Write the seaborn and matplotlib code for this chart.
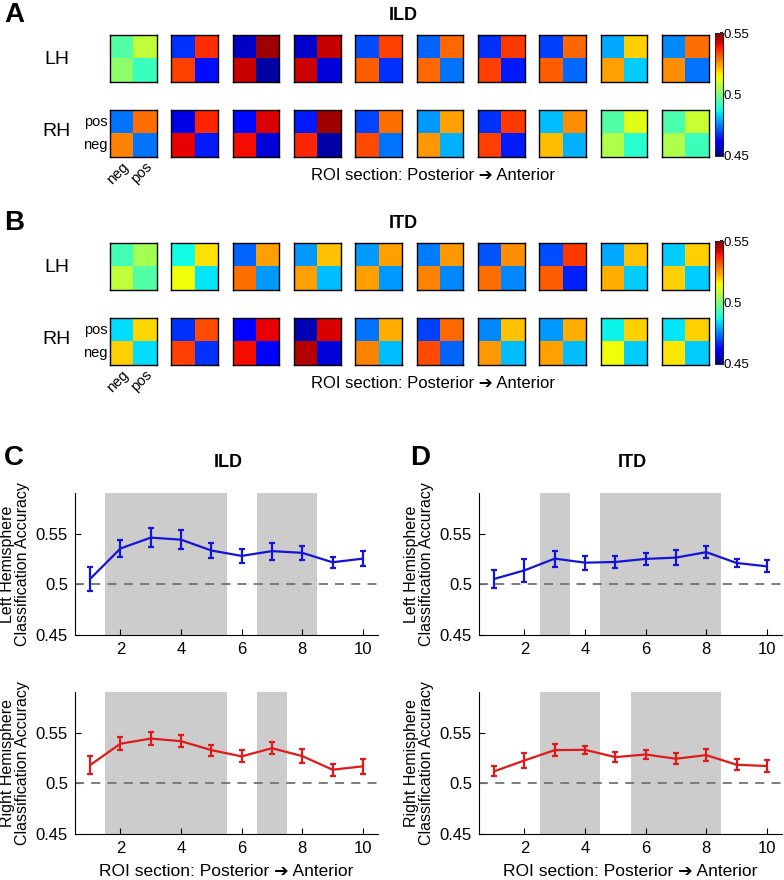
import numpy as np
import pandas as pd
import matplotlib
matplotlib.use('Agg')
import matplotlib.pyplot as plt
import seaborn as sns

sns.set_theme(style='white')
plt.rcParams['font.family'] = ['Liberation Sans', 'DejaVu Sans']
plt.rcParams['text.color'] = 'black'
plt.rcParams['axes.labelcolor'] = 'black'
plt.rcParams['xtick.color'] = 'black'
plt.rcParams['ytick.color'] = 'black'

# ---------------- data ----------------
rois = list(range(1, 11))
col_labels = ['neg', 'pos']
row_labels = ['pos', 'neg']

# confusion cells per ROI: [pos/neg, pos/pos, neg/neg, neg/pos]
ild_lh = [[0.495, 0.508, 0.502, 0.492], [0.4675, 0.536, 0.534, 0.464],
          [0.456, 0.547, 0.5435, 0.4535], [0.457, 0.544, 0.543, 0.458],
          [0.470, 0.534, 0.531, 0.4675], [0.4725, 0.530, 0.530, 0.474],
          [0.4675, 0.535, 0.534, 0.465], [0.469, 0.530, 0.531, 0.473],
          [0.479, 0.519, 0.524, 0.4825], [0.476, 0.529, 0.526, 0.474]]
ild_rh = [[0.474, 0.529, 0.527, 0.474], [0.459, 0.537, 0.541, 0.465],
          [0.4635, 0.542, 0.5395, 0.458], [0.465, 0.547, 0.537, 0.4535],
          [0.4695, 0.529, 0.533, 0.474], [0.4775, 0.524, 0.525, 0.480],
          [0.4675, 0.535, 0.534, 0.465], [0.481, 0.526, 0.521, 0.480],
          [0.495, 0.5125, 0.506, 0.490], [0.494, 0.509, 0.506, 0.4925]]
itd_lh = [[0.493, 0.505, 0.508, 0.495], [0.4875, 0.517, 0.514, 0.485],
          [0.4725, 0.524, 0.529, 0.4775], [0.4775, 0.5205, 0.524, 0.481],
          [0.4775, 0.524, 0.524, 0.4775], [0.475, 0.525, 0.527, 0.476],
          [0.471, 0.526, 0.529, 0.476], [0.470, 0.535, 0.531, 0.466],
          [0.479, 0.5205, 0.5225, 0.4825], [0.4825, 0.519, 0.519, 0.4825]]
itd_rh = [[0.484, 0.518, 0.519, 0.484], [0.4675, 0.533, 0.534, 0.4675],
          [0.4625, 0.541, 0.5395, 0.461], [0.455, 0.542, 0.545, 0.458],
          [0.474, 0.5225, 0.527, 0.481], [0.469, 0.530, 0.533, 0.4725],
          [0.476, 0.5205, 0.525, 0.481], [0.4775, 0.5225, 0.524, 0.481],
          [0.4865, 0.519, 0.514, 0.4825], [0.485, 0.519, 0.5165, 0.4825]]

# classification accuracy (mean, sem)
ild_lh_acc = [0.5053, 0.5353, 0.546, 0.544, 0.5333, 0.528, 0.5327, 0.531, 0.5217, 0.5253]
ild_lh_err = [0.012, 0.008, 0.0093, 0.0097, 0.007, 0.0067, 0.0083, 0.0072, 0.0055, 0.0073]
ild_rh_acc = [0.518, 0.539, 0.5441, 0.5415, 0.5327, 0.5265, 0.5346, 0.5268, 0.5134, 0.5167]
ild_rh_err = [0.0088, 0.0062, 0.006, 0.006, 0.0054, 0.006, 0.0059, 0.0069, 0.0059, 0.0074]
itd_lh_acc = [0.5053, 0.5137, 0.5253, 0.5213, 0.522, 0.525, 0.5263, 0.5317, 0.521, 0.5177]
itd_lh_err = [0.009, 0.0117, 0.008, 0.007, 0.006, 0.0063, 0.0073, 0.0062, 0.0043, 0.0058]
itd_rh_acc = [0.5118, 0.5225, 0.5327, 0.533, 0.5258, 0.5284, 0.5242, 0.5278, 0.5183, 0.517]
itd_rh_err = [0.005, 0.0077, 0.0056, 0.004, 0.0052, 0.0046, 0.0054, 0.0056, 0.0052, 0.0059]

# significant ROI ranges (shaded)
ild_lh_sig = [(2, 5), (7, 8)]
ild_rh_sig = [(2, 5), (7, 7)]
itd_lh_sig = [(3, 3), (5, 8)]
itd_rh_sig = [(3, 4), (6, 8)]

# ---------------- figure ----------------
W, H = 784, 880
fig = plt.figure(figsize=(W / 100, H / 100), dpi=100)


def rect(x0, y0, x1, y1):
    return [x0 / W, 1 - y1 / H, (x1 - x0) / W, (y1 - y0) / H]


VMIN, VMAX = 0.45, 0.55
CMAP = 'jet'
SQ = 46.7
DX = 61.33
X0 = 110
ARROW = '\u2794'
XL = 'ROI section: Posterior ' + ARROW + ' Anterior'


def heat_row(cells, top, first_labels=False):
    for i, c in enumerate(cells):
        x = X0 + DX * i
        ax = fig.add_axes(rect(x, top, x + SQ, top + SQ))
        df = pd.DataFrame([[c[0], c[1]], [c[2], c[3]]], index=row_labels, columns=col_labels)
        sns.heatmap(df, ax=ax, cmap=CMAP, vmin=VMIN, vmax=VMAX, cbar=False,
                    xticklabels=first_labels and i == 0,
                    yticklabels=first_labels and i == 0)
        for s in ax.spines.values():
            s.set_visible(True)
            s.set_color('black')
            s.set_linewidth(1.0)
        ax.tick_params(length=0, pad=2)
        ax.set_xlabel('')
        ax.set_ylabel('')
        if first_labels and i == 0:
            for t in ax.get_yticklabels():
                t.set_rotation(0)
                t.set_fontsize(10.5)
            for t in ax.get_xticklabels():
                t.set_rotation(45)
                t.set_ha('right')
                t.set_rotation_mode('anchor')
                t.set_fontsize(10.5)


def heat_panel(lh, rh, top, letter, title):
    heat_row(lh, top)
    heat_row(rh, top + 75, first_labels=True)
    fig.text(57 / W, 1 - (top + 24) / H, 'LH', ha='center', va='center', fontsize=14)
    fig.text(57 / W, 1 - (top + 97) / H, 'RH', ha='center', va='center', fontsize=14)
    fig.text(4 / W, 1 - (top - 20) / H, letter, ha='left', va='center', fontsize=20, fontweight='bold')
    fig.text(403 / W, 1 - (top - 20) / H, title, ha='center', va='center', fontsize=13, fontweight='bold')
    fig.text(433 / W, 1 - (top + 140) / H, XL, ha='center', va='center', fontsize=12)
    cax = fig.add_axes(rect(715, top - 2, 722.5, top + 121))
    sm = plt.cm.ScalarMappable(cmap=CMAP, norm=plt.Normalize(VMIN, VMAX))
    cb = fig.colorbar(sm, cax=cax, ticks=[0.45, 0.5, 0.55])
    cb.ax.set_yticklabels(['0.45', '0.5', '0.55'], fontsize=9.5)
    cb.ax.tick_params(direction='in', length=2, pad=1)
    cb.outline.set_linewidth(0.8)


heat_panel(ild_lh, ild_rh, 35, 'A', 'ILD')
heat_panel(itd_lh, itd_rh, 243, 'B', 'ITD')

BLUE = (0.08, 0.08, 0.85)
RED = (0.88, 0.1, 0.1)


def line_axes(x0, x1, top, bottom, acc, err, sig, color, ylabel, xlabel):
    ax = fig.add_axes(rect(x0, top, x1, bottom))
    for a, b in sig:
        ax.axvspan(a - 0.5, b + 0.5, color='#cccccc', lw=0, zorder=0)
    ax.axhline(0.5, color='0.45', lw=1.3, ls=(0, (5, 4)), zorder=1)
    sns.lineplot(x=rois, y=acc, color=color, lw=1.6, ax=ax, zorder=3)
    ax.errorbar(rois, acc, yerr=err, fmt='none', ecolor=color, elinewidth=1.6,
                capsize=2.5, capthick=1.6, zorder=3)
    ax.set_xlim(0.5, 10.5)
    ax.set_ylim(0.45, 0.59)
    ax.set_xticks([2, 4, 6, 8, 10])
    ax.set_yticks([0.45, 0.5, 0.55])
    ax.set_yticklabels(['0.45', '0.5', '0.55'])
    ax.tick_params(direction='in', length=4, width=0.8, labelsize=12, colors='black',
                   bottom=True, left=True, pad=5)
    for s in ['top', 'right']:
        ax.spines[s].set_visible(False)
    for s in ['left', 'bottom']:
        ax.spines[s].set_color('black')
        ax.spines[s].set_linewidth(0.8)
    ax.set_ylabel(ylabel, fontsize=11.5, linespacing=1.0, labelpad=4)
    ax.set_xlabel(xlabel, fontsize=12.5, labelpad=6)
    ax.set_facecolor('white')
    return ax


LH_LABEL = 'Left Hemisphere\nClassification Accuracy'
RH_LABEL = 'Right Hemisphere\nClassification Accuracy'

line_axes(75, 378, 493, 635, ild_lh_acc, ild_lh_err, ild_lh_sig, BLUE, LH_LABEL, '')
line_axes(75, 378, 692, 834, ild_rh_acc, ild_rh_err, ild_rh_sig, RED, RH_LABEL, XL)
line_axes(479, 782, 493, 635, itd_lh_acc, itd_lh_err, itd_lh_sig, BLUE, LH_LABEL, '')
line_axes(479, 782, 692, 834, itd_rh_acc, itd_rh_err, itd_rh_sig, RED, RH_LABEL, XL)

fig.text(4 / W, 1 - 458 / H, 'C', ha='left', va='center', fontsize=20, fontweight='bold')
fig.text(228 / W, 1 - 462 / H, 'ILD', ha='center', va='center', fontsize=13, fontweight='bold')
fig.text(410 / W, 1 - 458 / H, 'D', ha='left', va='center', fontsize=20, fontweight='bold')
fig.text(632 / W, 1 - 462 / H, 'ITD', ha='center', va='center', fontsize=13, fontweight='bold')

fig.savefig('out.png', dpi=100, facecolor='white')
